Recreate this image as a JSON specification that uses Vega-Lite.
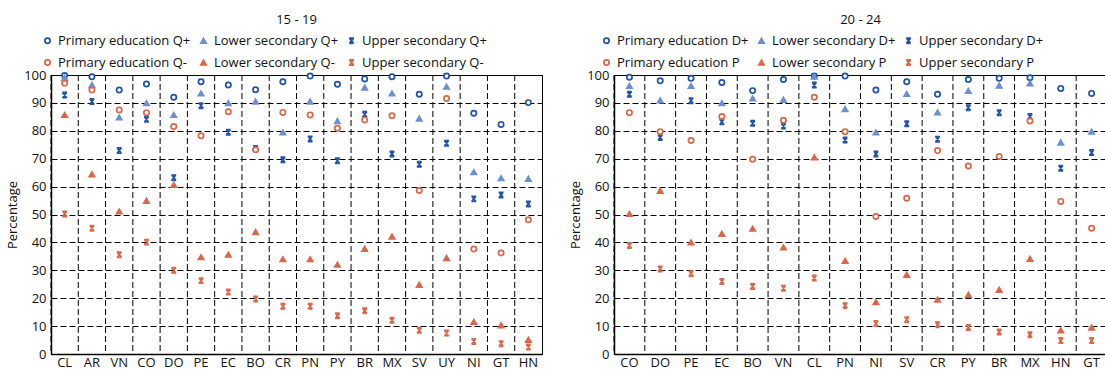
{
  "$schema": "https://vega.github.io/schema/vega-lite/v6.json",
  "padding": {"left": 6, "top": 13, "right": 0, "bottom": 0},
  "background": "white",
  "datasets": {
    "left": [
      {"country":"CL","series":"Primary education Q+","value":99.8},{"country":"CL","series":"Lower secondary Q+","value":99.0},{"country":"CL","series":"Upper secondary Q+","value":92.8},{"country":"CL","series":"Primary education Q-","value":97.0},{"country":"CL","series":"Lower secondary Q-","value":85.7},{"country":"CL","series":"Upper secondary Q-","value":50.2},
      {"country":"AR","series":"Primary education Q+","value":99.4},{"country":"AR","series":"Lower secondary Q+","value":96.4},{"country":"AR","series":"Upper secondary Q+","value":90.5},{"country":"AR","series":"Primary education Q-","value":94.6},{"country":"AR","series":"Lower secondary Q-","value":64.4},{"country":"AR","series":"Upper secondary Q-","value":45.1},
      {"country":"VN","series":"Primary education Q+","value":94.6},{"country":"VN","series":"Lower secondary Q+","value":84.8},{"country":"VN","series":"Upper secondary Q+","value":72.9},{"country":"VN","series":"Primary education Q-","value":87.5},{"country":"VN","series":"Lower secondary Q-","value":51.1},{"country":"VN","series":"Upper secondary Q-","value":35.6},
      {"country":"CO","series":"Primary education Q+","value":96.8},{"country":"CO","series":"Lower secondary Q+","value":89.9},{"country":"CO","series":"Upper secondary Q+","value":84.1},{"country":"CO","series":"Primary education Q-","value":86.5},{"country":"CO","series":"Lower secondary Q-","value":54.9},{"country":"CO","series":"Upper secondary Q-","value":40.1},
      {"country":"DO","series":"Primary education Q+","value":92.0},{"country":"DO","series":"Lower secondary Q+","value":85.7},{"country":"DO","series":"Upper secondary Q+","value":63.2},{"country":"DO","series":"Primary education Q-","value":81.5},{"country":"DO","series":"Lower secondary Q-","value":60.6},{"country":"DO","series":"Upper secondary Q-","value":30.0},
      {"country":"PE","series":"Primary education Q+","value":97.6},{"country":"PE","series":"Lower secondary Q+","value":93.4},{"country":"PE","series":"Upper secondary Q+","value":89.0},{"country":"PE","series":"Primary education Q-","value":78.2},{"country":"PE","series":"Lower secondary Q-","value":34.7},{"country":"PE","series":"Upper secondary Q-","value":26.3},
      {"country":"EC","series":"Primary education Q+","value":96.4},{"country":"EC","series":"Lower secondary Q+","value":89.9},{"country":"EC","series":"Upper secondary Q+","value":79.5},{"country":"EC","series":"Primary education Q-","value":86.8},{"country":"EC","series":"Lower secondary Q-","value":35.6},{"country":"EC","series":"Upper secondary Q-","value":22.2},
      {"country":"BO","series":"Primary education Q+","value":94.7},{"country":"BO","series":"Lower secondary Q+","value":90.5},{"country":"BO","series":"Upper secondary Q+","value":73.7},{"country":"BO","series":"Primary education Q-","value":73.2},{"country":"BO","series":"Lower secondary Q-","value":43.7},{"country":"BO","series":"Upper secondary Q-","value":19.7},
      {"country":"CR","series":"Primary education Q+","value":97.6},{"country":"CR","series":"Lower secondary Q+","value":79.4},{"country":"CR","series":"Upper secondary Q+","value":69.6},{"country":"CR","series":"Primary education Q-","value":86.6},{"country":"CR","series":"Lower secondary Q-","value":34.0},{"country":"CR","series":"Upper secondary Q-","value":17.1},
      {"country":"PN","series":"Primary education Q+","value":99.6},{"country":"PN","series":"Lower secondary Q+","value":90.5},{"country":"PN","series":"Upper secondary Q+","value":77.1},{"country":"PN","series":"Primary education Q-","value":85.7},{"country":"PN","series":"Lower secondary Q-","value":34.0},{"country":"PN","series":"Upper secondary Q-","value":17.1},
      {"country":"PY","series":"Primary education Q+","value":96.7},{"country":"PY","series":"Lower secondary Q+","value":83.5},{"country":"PY","series":"Upper secondary Q+","value":69.3},{"country":"PY","series":"Primary education Q-","value":80.9},{"country":"PY","series":"Lower secondary Q-","value":32.0},{"country":"PY","series":"Upper secondary Q-","value":13.7},
      {"country":"BR","series":"Primary education Q+","value":98.6},{"country":"BR","series":"Lower secondary Q+","value":95.5},{"country":"BR","series":"Upper secondary Q+","value":85.9},{"country":"BR","series":"Primary education Q-","value":83.9},{"country":"BR","series":"Lower secondary Q-","value":37.7},{"country":"BR","series":"Upper secondary Q-","value":15.5},
      {"country":"MX","series":"Primary education Q+","value":99.4},{"country":"MX","series":"Lower secondary Q+","value":93.4},{"country":"MX","series":"Upper secondary Q+","value":71.7},{"country":"MX","series":"Primary education Q-","value":85.4},{"country":"MX","series":"Lower secondary Q-","value":42.1},{"country":"MX","series":"Upper secondary Q-","value":12.1},
      {"country":"SV","series":"Primary education Q+","value":93.1},{"country":"SV","series":"Lower secondary Q+","value":84.4},{"country":"SV","series":"Upper secondary Q+","value":68.0},{"country":"SV","series":"Primary education Q-","value":58.6},{"country":"SV","series":"Lower secondary Q-","value":24.8},{"country":"SV","series":"Upper secondary Q-","value":8.5},
      {"country":"UY","series":"Primary education Q+","value":99.6},{"country":"UY","series":"Lower secondary Q+","value":95.8},{"country":"UY","series":"Upper secondary Q+","value":75.5},{"country":"UY","series":"Primary education Q-","value":91.6},{"country":"UY","series":"Lower secondary Q-","value":34.4},{"country":"UY","series":"Upper secondary Q-","value":7.5},
      {"country":"NI","series":"Primary education Q+","value":86.3},{"country":"NI","series":"Lower secondary Q+","value":65.2},{"country":"NI","series":"Upper secondary Q+","value":55.6},{"country":"NI","series":"Primary education Q-","value":37.6},{"country":"NI","series":"Lower secondary Q-","value":11.5},{"country":"NI","series":"Upper secondary Q-","value":4.5},
      {"country":"GT","series":"Primary education Q+","value":82.3},{"country":"GT","series":"Lower secondary Q+","value":63.0},{"country":"GT","series":"Upper secondary Q+","value":57.0},{"country":"GT","series":"Primary education Q-","value":36.2},{"country":"GT","series":"Lower secondary Q-","value":10.3},{"country":"GT","series":"Upper secondary Q-","value":3.7},
      {"country":"HN","series":"Primary education Q+","value":90.1},{"country":"HN","series":"Lower secondary Q+","value":62.8},{"country":"HN","series":"Upper secondary Q+","value":53.8},{"country":"HN","series":"Primary education Q-","value":48.1},{"country":"HN","series":"Lower secondary Q-","value":5.1},{"country":"HN","series":"Upper secondary Q-","value":2.5}
    ],
    "right": [
      {"country":"CO","series":"Primary education D+","value":99.2},{"country":"CO","series":"Lower secondary D+","value":96.1},{"country":"CO","series":"Upper secondary D+","value":93.1},{"country":"CO","series":"Primary education P","value":86.5},{"country":"CO","series":"Lower secondary P","value":50.2},{"country":"CO","series":"Upper secondary P","value":38.9},
      {"country":"DO","series":"Primary education D+","value":97.9},{"country":"DO","series":"Lower secondary D+","value":90.9},{"country":"DO","series":"Upper secondary D+","value":77.6},{"country":"DO","series":"Primary education P","value":79.7},{"country":"DO","series":"Lower secondary P","value":58.5},{"country":"DO","series":"Upper secondary P","value":30.5},
      {"country":"PE","series":"Primary education D+","value":98.8},{"country":"PE","series":"Lower secondary D+","value":96.1},{"country":"PE","series":"Upper secondary D+","value":90.8},{"country":"PE","series":"Primary education P","value":76.5},{"country":"PE","series":"Lower secondary P","value":40.0},{"country":"PE","series":"Upper secondary P","value":28.8},
      {"country":"EC","series":"Primary education D+","value":97.3},{"country":"EC","series":"Lower secondary D+","value":89.9},{"country":"EC","series":"Upper secondary D+","value":83.2},{"country":"EC","series":"Primary education P","value":85.1},{"country":"EC","series":"Lower secondary P","value":43.1},{"country":"EC","series":"Upper secondary P","value":26.0},
      {"country":"BO","series":"Primary education D+","value":94.4},{"country":"BO","series":"Lower secondary D+","value":91.6},{"country":"BO","series":"Upper secondary D+","value":82.7},{"country":"BO","series":"Primary education P","value":69.8},{"country":"BO","series":"Lower secondary P","value":44.9},{"country":"BO","series":"Upper secondary P","value":24.2},
      {"country":"VN","series":"Primary education D+","value":98.4},{"country":"VN","series":"Lower secondary D+","value":91.1},{"country":"VN","series":"Upper secondary D+","value":81.7},{"country":"VN","series":"Primary education P","value":83.8},{"country":"VN","series":"Lower secondary P","value":38.2},{"country":"VN","series":"Upper secondary P","value":23.6},
      {"country":"CL","series":"Primary education D+","value":99.6},{"country":"CL","series":"Lower secondary D+","value":99.4},{"country":"CL","series":"Upper secondary D+","value":96.4},{"country":"CL","series":"Primary education P","value":92.0},{"country":"CL","series":"Lower secondary P","value":70.5},{"country":"CL","series":"Upper secondary P","value":27.2},
      {"country":"PN","series":"Primary education D+","value":99.6},{"country":"PN","series":"Lower secondary D+","value":87.8},{"country":"PN","series":"Upper secondary D+","value":76.7},{"country":"PN","series":"Primary education P","value":79.7},{"country":"PN","series":"Lower secondary P","value":33.4},{"country":"PN","series":"Upper secondary P","value":17.3},
      {"country":"NI","series":"Primary education D+","value":94.6},{"country":"NI","series":"Lower secondary D+","value":79.4},{"country":"NI","series":"Upper secondary D+","value":71.7},{"country":"NI","series":"Primary education P","value":49.3},{"country":"NI","series":"Lower secondary P","value":18.6},{"country":"NI","series":"Upper secondary P","value":10.9},
      {"country":"SV","series":"Primary education D+","value":97.6},{"country":"SV","series":"Lower secondary D+","value":93.2},{"country":"SV","series":"Upper secondary D+","value":82.5},{"country":"SV","series":"Primary education P","value":55.8},{"country":"SV","series":"Lower secondary P","value":28.4},{"country":"SV","series":"Upper secondary P","value":12.3},
      {"country":"CR","series":"Primary education D+","value":93.1},{"country":"CR","series":"Lower secondary D+","value":86.6},{"country":"CR","series":"Upper secondary D+","value":77.0},{"country":"CR","series":"Primary education P","value":72.9},{"country":"CR","series":"Lower secondary P","value":19.5},{"country":"CR","series":"Upper secondary P","value":10.5},
      {"country":"PY","series":"Primary education D+","value":98.4},{"country":"PY","series":"Lower secondary D+","value":94.3},{"country":"PY","series":"Upper secondary D+","value":88.3},{"country":"PY","series":"Primary education P","value":67.4},{"country":"PY","series":"Lower secondary P","value":21.2},{"country":"PY","series":"Upper secondary P","value":9.5},
      {"country":"BR","series":"Primary education D+","value":98.8},{"country":"BR","series":"Lower secondary D+","value":96.2},{"country":"BR","series":"Upper secondary D+","value":86.5},{"country":"BR","series":"Primary education P","value":70.8},{"country":"BR","series":"Lower secondary P","value":23.0},{"country":"BR","series":"Upper secondary P","value":7.9},
      {"country":"MX","series":"Primary education D+","value":99.0},{"country":"MX","series":"Lower secondary D+","value":97.0},{"country":"MX","series":"Upper secondary D+","value":85.1},{"country":"MX","series":"Primary education P","value":83.5},{"country":"MX","series":"Lower secondary P","value":34.1},{"country":"MX","series":"Upper secondary P","value":6.9},
      {"country":"HN","series":"Primary education D+","value":95.2},{"country":"HN","series":"Lower secondary D+","value":75.8},{"country":"HN","series":"Upper secondary D+","value":66.6},{"country":"HN","series":"Primary education P","value":54.7},{"country":"HN","series":"Lower secondary P","value":8.5},{"country":"HN","series":"Upper secondary P","value":4.8},
      {"country":"GT","series":"Primary education D+","value":93.4},{"country":"GT","series":"Lower secondary D+","value":79.7},{"country":"GT","series":"Upper secondary D+","value":72.2},{"country":"GT","series":"Primary education P","value":45.1},{"country":"GT","series":"Lower secondary P","value":9.5},{"country":"GT","series":"Upper secondary P","value":4.8}
    ]
  },
  "spacing": 26,
  "hconcat": [
    {
      "width": 491,
      "height": 279,
      "title": {"text": "15 - 19", "offset": 7},
      "data": {"name": "left"},
      "layer": [
        {
          "transform": [{"filter": "datum.series === 'Primary education Q+'"}],
          "mark": {"type": "rule", "color": "#000", "strokeWidth": 1, "strokeDash": [6, 3]},
          "encoding": {
            "x": {"field": "country", "type": "nominal", "bandPosition": 0,
                  "sort": ["CL","AR","VN","CO","DO","PE","EC","BO","CR","PN","PY","BR","MX","SV","UY","NI","GT","HN"],
                  "scale": {"type": "band", "paddingInner": 0, "paddingOuter": 0},
                  "axis": {"title": null, "labelAngle": 0, "grid": false, "labelPadding": 2}}
          }
        },
        {
          "mark": {"type": "point", "size": 28, "strokeWidth": 1.7, "opacity": 1},
          "encoding": {
            "x": {"field": "country", "type": "nominal",
                  "sort": ["CL","AR","VN","CO","DO","PE","EC","BO","CR","PN","PY","BR","MX","SV","UY","NI","GT","HN"],
                  "scale": {"type": "band", "paddingInner": 0, "paddingOuter": 0},
                  "axis": {"title": null, "labelAngle": 0, "grid": false, "labelPadding": 2}},
            "y": {"field": "value", "type": "quantitative", "scale": {"domain": [0, 100]},
                  "axis": {"title": "Percentage", "values": [0,10,20,30,40,50,60,70,80,90,100], "grid": true, "labelPadding": 5}},
            "shape": {"field": "series", "type": "nominal",
                      "scale": {"domain": ["Primary education Q+","Lower secondary Q+","Upper secondary Q+","Primary education Q-","Lower secondary Q-","Upper secondary Q-"],
                                "range": ["circle","triangle-up","M-0.8,-1L0.8,1M0.8,-1L-0.8,1M-0.9,-1L0.9,-1M-0.9,1L0.9,1","circle","triangle-up","M-0.8,-1L0.8,1M0.8,-1L-0.8,1M-0.9,-1L0.9,-1M-0.9,1L0.9,1"]},
                      "legend": {"title": null, "orient": "none", "legendX": -10, "legendY": -41, "columns": 3, "direction": "horizontal"}},
            "fill": {"field": "series", "type": "nominal",
                     "scale": {"domain": ["Primary education Q+","Lower secondary Q+","Upper secondary Q+","Primary education Q-","Lower secondary Q-","Upper secondary Q-"],
                               "range": ["#ffffff","#6b8fd4","#1f52a8","#ffffff","#d9674a","#d9674a"]},
                     "legend": {"title": null, "orient": "none", "legendX": -10, "legendY": -41, "columns": 3, "direction": "horizontal"}},
            "stroke": {"field": "series", "type": "nominal",
                       "scale": {"domain": ["Primary education Q+","Lower secondary Q+","Upper secondary Q+","Primary education Q-","Lower secondary Q-","Upper secondary Q-"],
                                 "range": ["#1f52a8","#6b8fd4","#1f52a8","#d9674a","#d9674a","#d9674a"]},
                       "legend": {"title": null, "orient": "none", "legendX": -10, "legendY": -41, "columns": 3, "direction": "horizontal"}}
          }
        }
      ]
    },
    {
      "width": 493,
      "height": 279,
      "title": {"text": "20 - 24", "offset": 7},
      "data": {"name": "right"},
      "layer": [
        {
          "transform": [{"filter": "datum.series === 'Primary education D+'"}],
          "mark": {"type": "rule", "color": "#000", "strokeWidth": 1, "strokeDash": [6, 3]},
          "encoding": {
            "x": {"field": "country", "type": "nominal", "bandPosition": 0,
                  "sort": ["CO","DO","PE","EC","BO","VN","CL","PN","NI","SV","CR","PY","BR","MX","HN","GT"],
                  "scale": {"type": "band", "paddingInner": 0, "paddingOuter": 0},
                  "axis": {"title": null, "labelAngle": 0, "grid": false, "labelPadding": 2}}
          }
        },
        {
          "mark": {"type": "point", "size": 28, "strokeWidth": 1.7, "opacity": 1},
          "encoding": {
            "x": {"field": "country", "type": "nominal",
                  "sort": ["CO","DO","PE","EC","BO","VN","CL","PN","NI","SV","CR","PY","BR","MX","HN","GT"],
                  "scale": {"type": "band", "paddingInner": 0, "paddingOuter": 0},
                  "axis": {"title": null, "labelAngle": 0, "grid": false, "labelPadding": 2}},
            "y": {"field": "value", "type": "quantitative", "scale": {"domain": [0, 100]},
                  "axis": {"title": "Percentage", "values": [0,10,20,30,40,50,60,70,80,90,100], "grid": true, "labelPadding": 5}},
            "shape": {"field": "series", "type": "nominal",
                      "scale": {"domain": ["Primary education D+","Lower secondary D+","Upper secondary D+","Primary education P","Lower secondary P","Upper secondary P"],
                                "range": ["circle","triangle-up","M-0.8,-1L0.8,1M0.8,-1L-0.8,1M-0.9,-1L0.9,-1M-0.9,1L0.9,1","circle","triangle-up","M-0.8,-1L0.8,1M0.8,-1L-0.8,1M-0.9,-1L0.9,-1M-0.9,1L0.9,1"]},
                      "legend": {"title": null, "orient": "none", "legendX": -14, "legendY": -41, "columns": 3, "direction": "horizontal"}},
            "fill": {"field": "series", "type": "nominal",
                     "scale": {"domain": ["Primary education D+","Lower secondary D+","Upper secondary D+","Primary education P","Lower secondary P","Upper secondary P"],
                               "range": ["#ffffff","#6b8fd4","#1f52a8","#ffffff","#d9674a","#d9674a"]},
                     "legend": {"title": null, "orient": "none", "legendX": -14, "legendY": -41, "columns": 3, "direction": "horizontal"}},
            "stroke": {"field": "series", "type": "nominal",
                       "scale": {"domain": ["Primary education D+","Lower secondary D+","Upper secondary D+","Primary education P","Lower secondary P","Upper secondary P"],
                                 "range": ["#1f52a8","#6b8fd4","#1f52a8","#d9674a","#d9674a","#d9674a"]},
                       "legend": {"title": null, "orient": "none", "legendX": -14, "legendY": -41, "columns": 3, "direction": "horizontal"}}
          }
        }
      ]
    }
  ],
  "resolve": {
    "scale": {"x": "independent", "shape": "independent", "fill": "independent", "stroke": "independent"},
    "legend": {"shape": "independent", "fill": "independent", "stroke": "independent"}
  },
  "config": {
    "font": "Open Sans",
    "view": {"stroke": "#000", "strokeWidth": 1},
    "axis": {"labelFont": "Open Sans", "labelFontSize": 13, "labelColor": "#111", "titleFont": "Open Sans", "titleFontSize": 13,
             "titleFontWeight": "normal", "titleColor": "#111", "domainColor": "#000", "domainWidth": 1.5, "ticks": false,
             "gridColor": "#000", "gridDash": [6, 3], "gridWidth": 1, "gridOpacity": 1},
    "legend": {"labelFont": "Open Sans", "labelFontSize": 13, "labelColor": "#111", "symbolSize": 28, "symbolStrokeWidth": 1.7,
               "columnPadding": 6, "rowPadding": 8, "labelOffset": 4, "symbolOffset": 0},
    "title": {"font": "Open Sans", "fontSize": 13, "fontWeight": "normal", "color": "#111"}
  }
}
